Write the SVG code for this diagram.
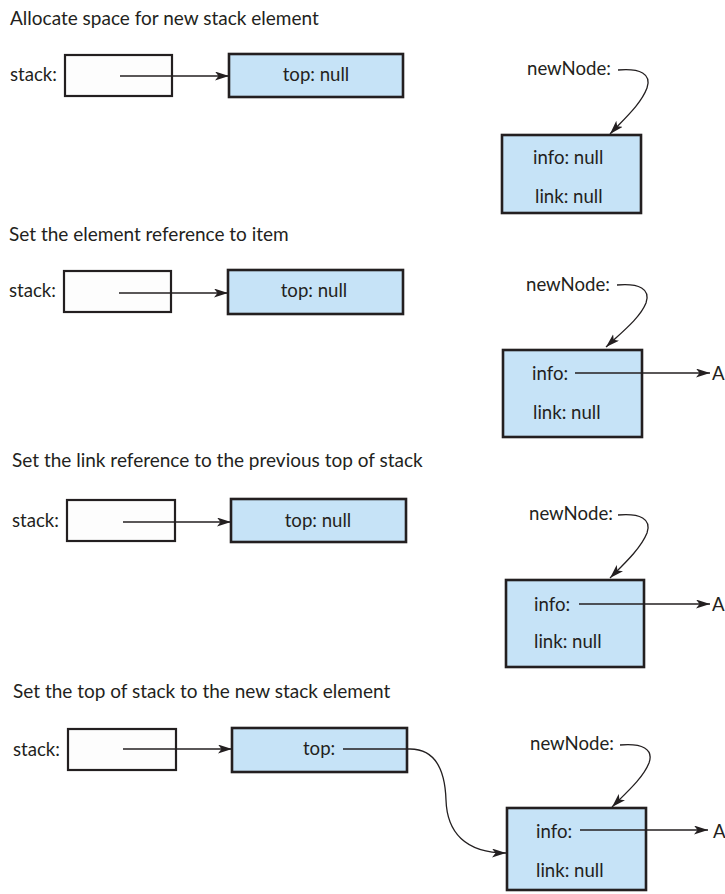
<svg xmlns="http://www.w3.org/2000/svg" width="725" height="894" viewBox="0 0 725 894">
<style>
text{font-family:Lato,"Noto Sans","Liberation Sans",sans-serif;font-size:18.6px;fill:#231f20}
.title{font-size:19px}
.box{fill:#fdfdfd;stroke:#231f20;stroke-width:2.2}
.node{fill:#c6e3f7;stroke:#231f20;stroke-width:2.6}
.ln{fill:none;stroke:#231f20;stroke-width:1.3}
.arr{marker-end:url(#ah)}
.mid{text-anchor:middle}
</style>
<defs>
<marker id="ah" markerUnits="userSpaceOnUse" markerWidth="15" markerHeight="10" refX="14" refY="4.5" orient="auto">
<path d="M0,0 L14,4.5 L0,9 L3.5,4.5 z" fill="#231f20"/>
</marker>
</defs>
<rect width="725" height="894" fill="#ffffff"/>

<g id="titles">
<text class="title" x="10" y="25">Allocate space for new stack element</text>
<text class="title" x="9" y="241">Set the element reference to item</text>
<text class="title" x="12" y="467">Set the link reference to the previous top of stack</text>
<text class="title" x="13" y="698">Set the top of stack to the new stack element</text>
</g>

<!-- Step 1 -->
<g id="s1-stack"><text x="10" y="81">stack:</text><rect class="box" x="65" y="55" width="107" height="41"/></g>
<g id="s1-top"><rect class="node" x="229" y="54" width="174" height="43"/><text class="mid" x="316" y="81">top: null</text></g>
<g id="s1-newnode-label"><text x="527" y="75">newNode:</text></g>
<g id="s1-newnode"><rect class="node" x="502" y="135" width="139" height="78"/><text x="533" y="164">info: null</text><text x="535" y="203">link: null</text></g>

<!-- Step 2 -->
<g id="s2-stack"><text x="9" y="297">stack:</text><rect class="box" x="64" y="271" width="107" height="41"/></g>
<g id="s2-top"><rect class="node" x="228" y="270" width="175" height="44"/><text class="mid" x="314" y="297">top: null</text></g>
<g id="s2-newnode-label"><text x="526" y="291">newNode:</text></g>
<g id="s2-newnode"><rect class="node" x="503" y="350" width="139" height="87"/><text x="532" y="380">info:</text><text x="533" y="419">link: null</text></g>
<g id="s2-A"><text x="712" y="380">A</text></g>

<!-- Step 3 -->
<g id="s3-stack"><text x="12" y="527">stack:</text><rect class="box" x="67" y="500" width="108" height="41"/></g>
<g id="s3-top"><rect class="node" x="231" y="499" width="175" height="43"/><text class="mid" x="318" y="527">top: null</text></g>
<g id="s3-newnode-label"><text x="529" y="520">newNode:</text></g>
<g id="s3-newnode"><rect class="node" x="506" y="580" width="138" height="87"/><text x="534" y="611">info:</text><text x="534" y="648">link: null</text></g>
<g id="s3-A"><text x="712" y="611">A</text></g>

<!-- Step 4 -->
<g id="s4-stack"><text x="13" y="756">stack:</text><rect class="box" x="68" y="729" width="108" height="41"/></g>
<g id="s4-top"><rect class="node" x="232" y="728" width="175" height="44"/><text x="303" y="755">top:</text></g>
<g id="s4-newnode-label"><text x="530" y="750">newNode:</text></g>
<g id="s4-newnode"><rect class="node" x="507" y="808" width="139" height="82"/><text x="536" y="838">info:</text><text x="536" y="877">link: null</text></g>
<g id="s4-A"><text x="713" y="838">A</text></g>

<g id="connectors">
<path class="ln arr" d="M120,76 L229,76"/>
<path class="ln arr" d="M618,70 C640,68 652,74 647,88 C641,104 625,118 610,134"/>

<path class="ln arr" d="M119,293 L228,293"/>
<path class="ln arr" d="M617,285 C639,283 651,289 646,303 C640,318 622,332 606,347"/>
<path class="ln arr" d="M575,373 L710,373"/>

<path class="ln arr" d="M123,522 L231,522"/>
<path class="ln arr" d="M618,515 C640,513 652,519 647,533 C641,548 625,563 610,578"/>
<path class="ln arr" d="M579,604 L710,604"/>

<path class="ln arr" d="M123,749 L232,749"/>
<path class="ln arr" d="M620,745 C642,743 654,749 649,763 C643,778 627,792 612,807"/>
<path class="ln arr" d="M580,830 L708,830"/>
<path class="ln arr" d="M343,749 L410,749 C435,749 445,770 446,800 C447,832 465,853 506,853"/>
</g>
</svg>
